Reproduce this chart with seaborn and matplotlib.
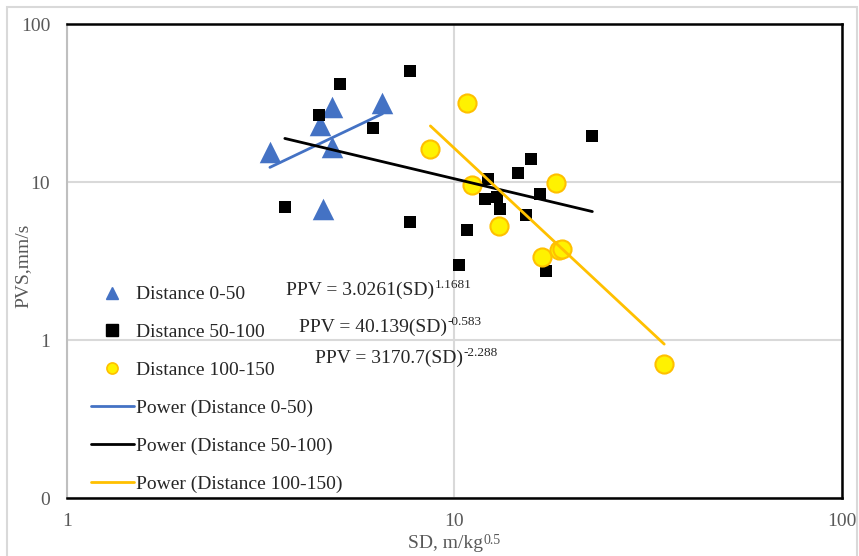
# Import libraries
import numpy as np
import pandas as pd
import matplotlib
matplotlib.use("Agg")
import matplotlib.pyplot as plt
import seaborn as sns
from matplotlib.lines import Line2D
from matplotlib.patches import Rectangle

# Data (SD in m/kg^0.5, PPV in mm/s)
d1_sd = [3.34, 4.49, 4.82, 4.82, 6.52, 4.59]
d1_ppv = [15.5, 23.0, 29.8, 16.7, 31.6, 6.75]

d2_sd = [3.65, 4.46, 5.06, 6.15, 7.66, 7.66, 10.3, 10.8, 12.2, 12.0,
         12.9, 13.1, 14.6, 15.8, 16.6, 15.3, 17.2, 22.7]
d2_ppv = [6.95, 26.5, 41.7, 22.0, 50.4, 5.58, 2.98, 4.97, 10.4, 7.8,
          8.0, 6.75, 11.4, 14.0, 8.4, 6.2, 2.73, 19.5]

d3_sd = [8.67, 10.8, 11.1, 13.0, 16.8, 18.3, 18.6, 19.0, 34.8]
d3_ppv = [16.2, 31.6, 9.6, 5.27, 3.35, 9.9, 3.7, 3.77, 0.71]

# Power trendline coefficients shown on the chart: PPV = a * SD^b
fit_a = [3.0261, 40.139, 3170.7]
fit_b = [1.1681, -0.583, -2.288]
fit_a_text = ["3.0261", "40.139", "3170.7"]
fit_b_text = ["1.1681", "-0.583", "-2.288"]

series_names = ["Distance 0-50", "Distance 50-100", "Distance 100-150"]
x_ticks = [1, 10, 100]
y_ticks = [0.1, 1, 10, 100]
y_tick_labels = ["0", "1", "10", "100"]

df = pd.concat([
    pd.DataFrame({"SD": d1_sd, "PPV": d1_ppv, "Series": series_names[0]}),
    pd.DataFrame({"SD": d2_sd, "PPV": d2_ppv, "Series": series_names[1]}),
    pd.DataFrame({"SD": d3_sd, "PPV": d3_ppv, "Series": series_names[2]}),
])

# Style
sns.set_style("white")
plt.rcParams["font.family"] = ["Liberation Serif", "DejaVu Serif"]

blue = "#4472C4"
yellow_fill = "#FFF200"
yellow_edge = "#FFC000"
grey_text = "#595959"
grid_col = "#D9D9D9"

fig = plt.figure(figsize=(8.59, 5.56), dpi=100)
ax = fig.add_axes([0.078, 0.1043, 0.902, 0.8525])

# Outer chart border
fig.patches.append(Rectangle((0.008, -0.01), 0.99, 0.997, transform=fig.transFigure,
                             fill=False, edgecolor=grid_col, linewidth=1.5))

# Scatter points
sns.scatterplot(data=df[df["Series"] == series_names[0]], x="SD", y="PPV", ax=ax,
                marker="^", s=240, color=blue, edgecolor=blue, linewidth=0, zorder=3)
sns.scatterplot(data=df[df["Series"] == series_names[1]], x="SD", y="PPV", ax=ax,
                marker="s", s=80, color="black", edgecolor="black", linewidth=0, zorder=3)
sns.scatterplot(data=df[df["Series"] == series_names[2]], x="SD", y="PPV", ax=ax,
                marker="o", s=170, color=yellow_fill, edgecolor=yellow_edge, linewidth=1.5, zorder=3)

# Power trendlines over each series range
line_colors = [blue, "black", yellow_edge]
for xs, a, b, col in zip([d1_sd, d2_sd, d3_sd], fit_a, fit_b, line_colors):
    xx = np.geomspace(min(xs), max(xs), 20)
    sns.lineplot(x=xx, y=a * xx ** b, ax=ax, color=col, linewidth=2.0, zorder=4)

# Axes
ax.set_xscale("log")
ax.set_yscale("log")
ax.set_xlim(1, 100)
ax.set_ylim(0.1, 100)
ax.set_xticks(x_ticks)
ax.set_xticklabels([str(t) for t in x_ticks])
ax.set_yticks(y_ticks)
ax.set_yticklabels(y_tick_labels)
ax.minorticks_off()
ax.tick_params(axis="both", length=0, labelsize=14, labelcolor=grey_text)
ax.tick_params(axis="x", pad=11)
ax.tick_params(axis="y", pad=12)
ax.grid(True, which="major", color=grid_col, linewidth=1.5)
ax.set_axisbelow(True)
for side in ["top", "right", "bottom"]:
    ax.spines[side].set_color("black")
    ax.spines[side].set_linewidth(1.8)
ax.spines["left"].set_color("#BFBFBF")
ax.spines["left"].set_linewidth(1.5)

ax.set_xlabel("")
ax.set_ylabel("PVS,mm/s", fontsize=14, color=grey_text)
ax.yaxis.set_label_coords(-0.046, 0.49)

# x-axis title with a small superscript exponent
xl = ax.text(0.537, -0.097, "SD, m/kg", transform=ax.transAxes, fontsize=14,
             color=grey_text, ha="right", va="center")
ax.annotate("0.5", xy=(1, 1), xycoords=xl, xytext=(0.5, 1.0),
            textcoords="offset points", fontsize=10, color=grey_text, va="top", ha="left")

# Equations: main text plus a small superscript exponent
eq_pos = [(0.283, 0.439), (0.299, 0.361), (0.320, 0.295)]
for (px, py), a_txt, b_txt in zip(eq_pos, fit_a_text, fit_b_text):
    t = ax.text(px, py, "PPV = " + a_txt + "(SD)", transform=ax.transAxes,
                fontsize=14, va="center", ha="left")
    ax.annotate(b_txt, xy=(1, 1), xycoords=t, xytext=(0.5, 1.5),
                textcoords="offset points", fontsize=9.5, va="top", ha="left")

# Legend
handles = [
    Line2D([], [], linestyle="none", marker="^", markersize=9, color=blue),
    Line2D([], [], linestyle="none", marker="s", markersize=8, color="black"),
    Line2D([], [], linestyle="none", marker="o", markersize=8, markerfacecolor=yellow_fill,
           markeredgecolor=yellow_edge, markeredgewidth=1.2),
    Line2D([], [], color=blue, linewidth=2.0),
    Line2D([], [], color="black", linewidth=2.0),
    Line2D([], [], color=yellow_edge, linewidth=2.0),
]
labels = series_names + ["Power (" + n + ")" for n in series_names]
ax.legend(handles, labels, loc="upper left", bbox_to_anchor=(0.031, 0.4476),
          frameon=False, fontsize=14, handlelength=2.2, handletextpad=0.1,
          labelspacing=1.04, borderpad=0, borderaxespad=0)

plt.savefig("out.png", dpi=100)
